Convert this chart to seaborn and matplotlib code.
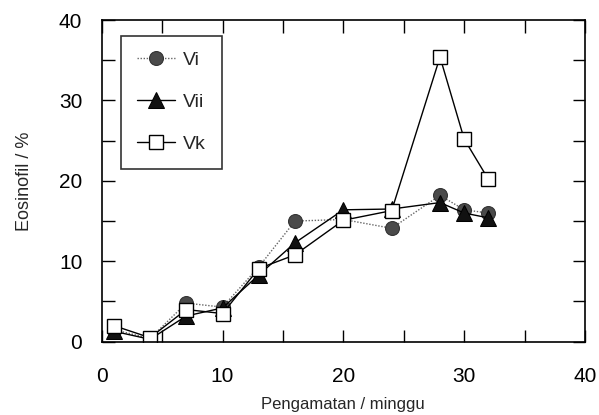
import matplotlib
matplotlib.use("Agg")
import matplotlib.pyplot as plt
import seaborn as sns
from matplotlib.ticker import MultipleLocator

weeks = [1, 4, 7, 10, 13, 16, 20, 24, 28, 30, 32]
vi = [1.5, 0.4, 4.8, 4.3, 9.3, 15.0, 15.2, 14.1, 18.2, 16.4, 16.0]
vii = [1.3, 0.3, 3.2, 4.2, 8.3, 12.3, 16.4, 16.5, 17.3, 16.0, 15.4]
vk = [2.0, 0.5, 4.0, 3.5, 9.1, 10.8, 15.1, 16.3, 35.4, 25.2, 20.2]
series_names = ["Vi", "Vii", "Vk"]
x_ticks = [0, 10, 20, 30, 40]
y_ticks = [0, 10, 20, 30, 40]

sns.set_style("ticks")
plt.rcParams["font.family"] = ["Liberation Sans", "DejaVu Sans"]

fig = plt.figure(figsize=(5.99, 4.15), dpi=100)
ax = fig.add_axes([0.1698, 0.1766, 0.8068, 0.7752])

sns.lineplot(x=weeks, y=vi, ax=ax, color="#666666", linestyle=(0, (1, 1.2)), linewidth=1.0,
             marker="o", markersize=10, markerfacecolor="#4a4a4a", markeredgecolor="#333333",
             markeredgewidth=0.8, label=series_names[0])
sns.lineplot(x=weeks, y=vii, ax=ax, color="black", linewidth=1.0,
             marker="^", markersize=11, markerfacecolor="#111111", markeredgecolor="black",
             label=series_names[1])
sns.lineplot(x=weeks, y=vk, ax=ax, color="black", linewidth=1.0,
             marker="s", markersize=10.5, markerfacecolor="white", markeredgecolor="black",
             markeredgewidth=1.0, label=series_names[2])

ax.set_xlim(0, 40)
ax.set_ylim(0, 40)
ax.set_xticks(x_ticks)
ax.set_yticks(y_ticks)
ax.xaxis.set_minor_locator(MultipleLocator(5))
ax.yaxis.set_minor_locator(MultipleLocator(5))
ax.tick_params(which="both", direction="in", top=True, right=True, length=9, width=1.0,
               color="black")
ax.tick_params(axis="x", which="major", labelsize=15, pad=18, colors="black")
ax.tick_params(axis="y", which="major", labelsize=15, pad=14, colors="black")
for s in ax.spines.values():
    s.set_linewidth(1.2)
    s.set_color("black")

ax.set_xlabel("Pengamatan / minggu", fontsize=12, labelpad=8)
ax.set_ylabel("Eosinofil / %", fontsize=13, labelpad=19)

leg = ax.legend(loc="upper left", bbox_to_anchor=(0.04, 0.95), frameon=True, fancybox=False,
                edgecolor="black", fontsize=14, labelspacing=1.25, handlelength=2.0,
                borderpad=0.8, handletextpad=0.4, borderaxespad=0)
leg.get_frame().set_linewidth(1.2)

fig.savefig("out.png", dpi=100, facecolor="white")
